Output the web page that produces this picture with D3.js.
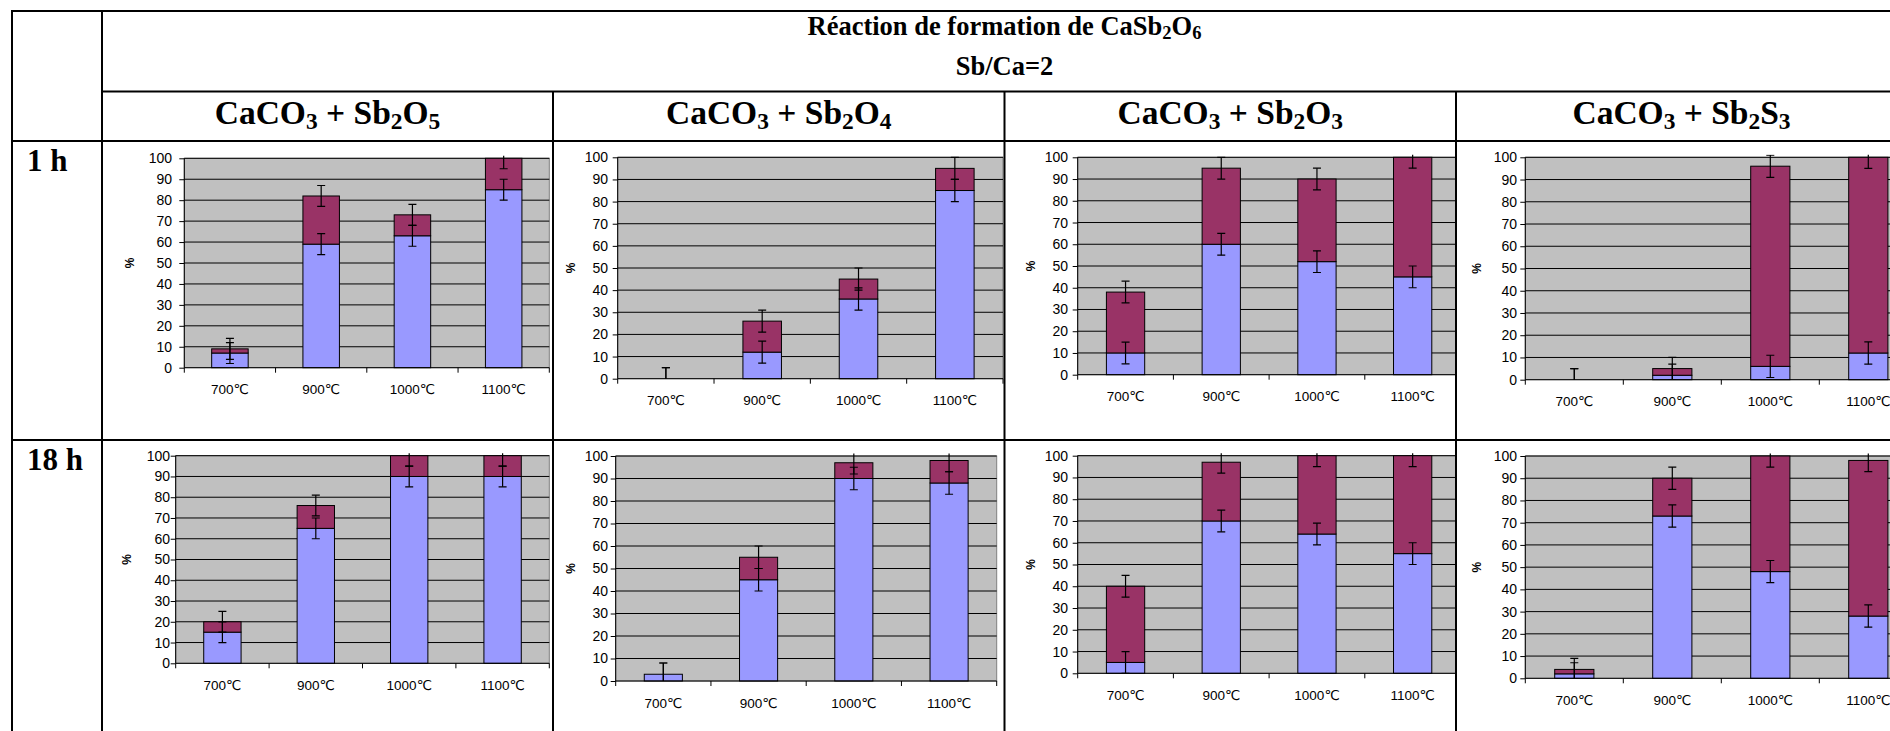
<!DOCTYPE html>
<html><head><meta charset="utf-8">
<script src="https://cdn.jsdelivr.net/npm/d3@7"></script>
<style>
body{margin:0;background:#fff}
.serif{font-family:"Liberation Serif","Times New Roman",serif;font-weight:bold;fill:#000}
.sans{font-family:"Liberation Sans",Arial,"DejaVu Sans",sans-serif;fill:#000}
</style>
</head><body>
<svg id="c" width="1890" height="731"></svg>
<script>
// ---------- data ----------
const title = "Réaction de formation de CaSb2O6";
const subtitle = "Sb/Ca=2";
const reactants = ["CaCO3 + Sb2O5", "CaCO3 + Sb2O4", "CaCO3 + Sb2O3", "CaCO3 + Sb2S3"];
const durations = ["1 h", "18 h"];
const categories = ["700℃", "900℃", "1000℃", "1100℃"];
const yTicks = [0, 10, 20, 30, 40, 50, 60, 70, 80, 90, 100];
const yLabel = "%";
const errorMargin = 5;
// lower (blue) segment, per reactant, 1 h
const blue1h   = [[7, 59, 63, 85], [0, 12, 36, 85], [10, 60, 52, 45], [0, 2, 6, 12]];
// upper (maroon) segment, per reactant, 1 h
const maroon1h = [[2, 23, 10, 15], [0, 14, 9, 10], [28, 35, 38, 55], [0, 3, 90, 88]];
// lower (blue) segment, per reactant, 18 h
const blue18h   = [[15, 65, 90, 90], [3, 45, 90, 88], [5, 70, 64, 55], [2, 73, 48, 28]];
// upper (maroon) segment, per reactant, 18 h
const maroon18h = [[5, 11, 10, 10], [0, 10, 7, 10], [35, 27, 36, 45], [2, 17, 52, 70]];

const blueByDuration = [blue1h, blue18h];
const maroonByDuration = [maroon1h, maroon18h];

// ---------- layout ----------
const colors = {blue: "#9999FF", maroon: "#993366", plot: "#C0C0C0", plotBorder: "#808080"};
const table = {left: 12, top: 11, firstCol: 102, headerMid: 91.5, headerBottom: 141, rowMid: 440, bottom: 760,
  cols: [102, 553, 1004.5, 1456, 1907]};
// plot rectangles [x0, y0, x1, y1, labelRight, percentX]
const plotRects = [
  [[184.3, 158.3, 549.3, 367.7, 172, 130], [617.7, 157.3, 1003, 378.7, 608, 571],
   [1077.7, 157.3, 1460.5, 374.7, 1068, 1031], [1525.3, 157.3, 1917.3, 379.7, 1517, 1477]],
  [[175.7, 455.7, 549.3, 663.3, 170, 127], [615.7, 456, 996.7, 681, 608, 571],
   [1077.7, 455.7, 1460.5, 673.3, 1068, 1031], [1525.3, 456, 1917.3, 678.3, 1517, 1477]]
];

const svg = d3.select("#c");

function chemText(sel, str, subScale) {
  // digits directly after a letter become subscripts
  const segs = [];
  str.replace(/(\d+)|([^\d]+)/g, (m, d, t, off) => {
    if (d && off > 0 && /[A-Za-z]/.test(str[off - 1])) segs.push({t: d, sub: true});
    else segs.push({t: m, sub: false});
  });
  let wasSub = false;
  segs.forEach(s => {
    const ts = sel.append("tspan").text(s.t);
    if (s.sub) { ts.attr("font-size", subScale + "em").attr("dy", "0.22em"); wasSub = true; }
    else if (wasSub) { ts.attr("dy", (-0.22 * subScale) + "em"); wasSub = false; }
  });
}

// ---------- charts ----------
durations.forEach((dur, r) => {
  reactants.forEach((re, c) => {
    const [x0, y0, x1, y1, labelRight, pctX] = plotRects[r][c];
    const cellLeft = table.cols[c], cellRight = table.cols[c + 1];
    const cellTop = r === 0 ? table.headerBottom : table.rowMid;
    const cellBottom = r === 0 ? table.rowMid : table.bottom;
    const clipId = `cell-${r}-${c}`;
    svg.append("clipPath").attr("id", clipId).append("rect")
      .attr("x", cellLeft).attr("y", cellTop).attr("width", cellRight - cellLeft).attr("height", cellBottom - cellTop);
    const ebClip = `eb-${r}-${c}`;
    svg.append("clipPath").attr("id", ebClip).append("rect")
      .attr("x", x0 - 20).attr("y", y0 - 2.5).attr("width", x1 - x0 + 40).attr("height", y1 - y0 + 2.5);

    const g = svg.append("g").attr("clip-path", `url(#${clipId})`);
    const x = d3.scaleBand().domain(categories).range([x0, x1]).paddingInner(0.6).paddingOuter(0.3);
    const y = d3.scaleLinear().domain([0, 100]).range([y1, y0]);

    g.append("rect").attr("x", x0).attr("y", y0).attr("width", x1 - x0).attr("height", y1 - y0)
      .attr("fill", colors.plot).attr("stroke", colors.plotBorder).attr("stroke-width", 1);
    g.selectAll(".grid").data(yTicks.filter(v => v > 0)).join("line")
      .attr("x1", x0).attr("x2", x1).attr("y1", d => y(d)).attr("y2", d => y(d))
      .attr("stroke", "#000").attr("stroke-width", 1);

    const blue = blueByDuration[r][c], maroon = maroonByDuration[r][c];
    const rows = categories.map((cat, i) => ({cat, b: blue[i], m: maroon[i], t: blue[i] + maroon[i]}));

    g.selectAll(".bb").data(rows.filter(d => d.b > 0)).join("rect")
      .attr("x", d => x(d.cat)).attr("width", x.bandwidth())
      .attr("y", d => y(d.b)).attr("height", d => y(0) - y(d.b))
      .attr("fill", colors.blue).attr("stroke", "#000").attr("stroke-width", 1);
    g.selectAll(".mb").data(rows.filter(d => d.m > 0)).join("rect")
      .attr("x", d => x(d.cat)).attr("width", x.bandwidth())
      .attr("y", d => y(d.t)).attr("height", d => y(d.b) - y(d.t))
      .attr("fill", colors.maroon).attr("stroke", "#000").attr("stroke-width", 1);

    // error bars at top of each segment
    const eb = g.append("g").attr("clip-path", `url(#${ebClip})`);
    const errs = [];
    rows.forEach(d => { errs.push({cat: d.cat, v: d.b}); errs.push({cat: d.cat, v: d.t}); });
    errs.forEach(e => {
      const cx = x(e.cat) + x.bandwidth() / 2;
      const hi = y(e.v + errorMargin), lo = y(e.v - errorMargin);
      eb.append("line").attr("x1", cx).attr("x2", cx).attr("y1", hi).attr("y2", lo).attr("stroke", "#000").attr("stroke-width", 1.2);
      [hi, lo].forEach(yy => eb.append("line").attr("x1", cx - 4).attr("x2", cx + 4).attr("y1", yy).attr("y2", yy)
        .attr("stroke", "#000").attr("stroke-width", 1.2));
    });

    // axes
    const ya = g.append("g").attr("transform", `translate(${x0},0)`)
      .call(d3.axisLeft(y).tickValues(yTicks).tickSize(5).tickPadding(Math.max(0, x0 - labelRight - 5)));
    ya.select(".domain").attr("stroke", "#000").attr("d", `M0,${y0}V${y1}`);
    ya.selectAll("line").attr("stroke", "#000");
    ya.selectAll("text").attr("class", "sans").attr("font-size", 14)
      .attr("font-family", '"Liberation Sans",Arial,"DejaVu Sans",sans-serif').attr("fill", "#000");

    const step = x.step();
    g.append("line").attr("x1", x0).attr("x2", x1).attr("y1", y1).attr("y2", y1).attr("stroke", "#000");
    g.selectAll(".xt").data(d3.range(categories.length + 1)).join("line")
      .attr("x1", i => x0 + i * step).attr("x2", i => x0 + i * step)
      .attr("y1", y1).attr("y2", y1 + 5).attr("stroke", "#000");
    g.selectAll(".xl").data(categories).join("text").attr("class", "sans")
      .attr("x", d => x(d) + x.bandwidth() / 2).attr("y", y1 + 26.5)
      .attr("text-anchor", "middle").attr("font-size", 13.5).text(d => d);

    g.append("text").attr("class", "sans").attr("font-size", 12).attr("font-weight", "bold")
      .attr("transform", `translate(${pctX + 4},${(y0 + y1) / 2}) rotate(-90)`)
      .attr("text-anchor", "middle").text(yLabel);
  });
});

// ---------- table ----------
const L = svg.append("g").attr("stroke", "#000").attr("stroke-width", 2);
const hl = (yy, xa, xb) => L.append("line").attr("x1", xa).attr("x2", xb).attr("y1", yy).attr("y2", yy);
const vl = (xx, ya, yb) => L.append("line").attr("x1", xx).attr("x2", xx).attr("y1", ya).attr("y2", yb);
hl(table.top, table.left - 1, 1900);
hl(table.headerMid, table.firstCol, 1900);
hl(table.headerBottom, table.left - 1, 1900);
hl(table.rowMid, table.left - 1, 1900);
vl(table.left, table.top - 1, 760);
vl(table.firstCol, table.top - 1, 760);
table.cols.slice(1).forEach(cx => vl(cx, table.headerMid, 760));

const midX = (table.firstCol + table.cols[4]) / 2;
chemText(svg.append("text").attr("class", "serif").attr("x", midX).attr("y", 35).attr("text-anchor", "middle").attr("font-size", 26.5), title, 0.7);
svg.append("text").attr("class", "serif").attr("x", midX).attr("y", 75).attr("text-anchor", "middle").attr("font-size", 26.5).text(subtitle);
reactants.forEach((re, c) => {
  chemText(svg.append("text").attr("class", "serif").attr("x", (table.cols[c] + table.cols[c + 1]) / 2)
    .attr("y", 124).attr("text-anchor", "middle").attr("font-size", 33.5), re, 0.7);
});
durations.forEach((d, r) => {
  svg.append("text").attr("class", "serif").attr("x", 27).attr("y", r === 0 ? 171 : 470)
    .attr("font-size", 31).text(d);
});
</script>
</body></html>
